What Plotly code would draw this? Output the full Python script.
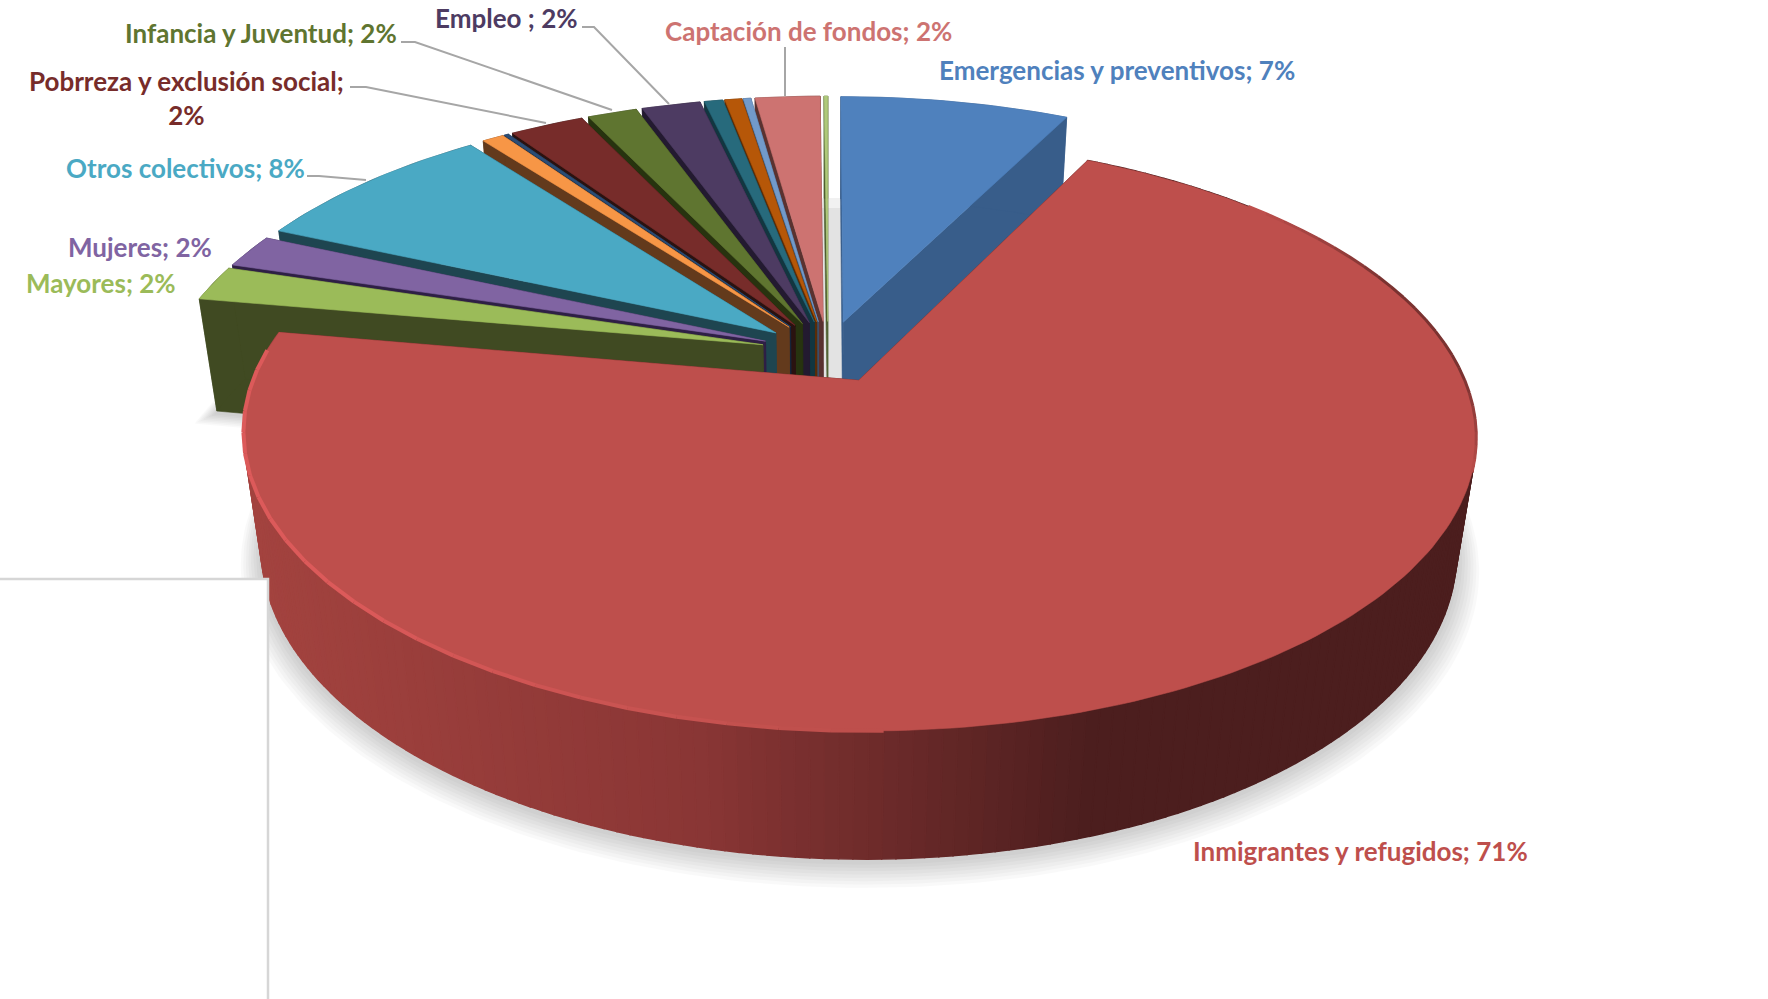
import math
import plotly.graph_objects as go

# ---- data (share of total, %; visible labels only where the source has them)
categories = ["Emergencias y preventivos", "Inmigrantes y refugidos", "Mayores", "Mujeres", "Otros colectivos",
              "Otro 1", "Otro 2", "Pobrreza y exclusión social", "Infancia y Juventud", "Empleo ",
              "Otro 3", "Otro 4", "Otro 5", "Captación de fondos", "Otro 6"]
values = [7.4, 70.5, 2.0, 1.9, 8.0, 0.7, 0.15, 2.4, 1.6, 1.9, 0.6, 0.55, 0.25, 2.1, 0.12]
top_colors = ["#4F81BD", "#BE4F4C", "#9BBB59", "#8064A2", "#4AA9C4", "#F79646", "#2C4D75", "#772C2A",
              "#5F7530", "#4D3B62", "#276A7C", "#B65708", "#729ACA", "#CD7371", "#AFC97A"]
side_colors = ["#385D8A", "#4C1E1E", "#404A22", "#2E1F45", "#1E4550", "#633A1C", "#14243A", "#2A1210",
               "#27330F", "#231A30", "#123640", "#5A2C06", "#39516E", "#5A3230", "#4E5E2E"]

# labels: (text, colour, x, y)
labels = [
    ("Emergencias y preventivos; 7%", "#4F81BD", 1117, 70),
    ("Inmigrantes y refugidos; 71%", "#BE4F4C", 1360, 851),
    ("Captación de fondos; 2%", "#CD7371", 808, 31),
    ("Empleo ; 2%", "#4D3B62", 506, 18),
    ("Infancia y Juventud; 2%", "#5F7530", 261, 33),
    ("Pobrreza y exclusión social;<br>2%", "#772C2A", 186, 98),
    ("Otros colectivos; 8%", "#4AA9C4", 185, 168),
    ("Mujeres; 2%", "#8064A2", 140, 247),
    ("Mayores; 2%", "#9BBB59", 101, 283),
]
leaders = [
    "M785,47 L785,96",
    "M582,27 L594,27 L669,104",
    "M401,42 L415,42 L612,110",
    "M350,87 L366,87 L546,123",
    "M307,176 L319,176 L366,180",
]

# ---- projection of the tilted pie
CX, CY, RX, RY, K, DEPTH, M, EXPL = 828, 352, 595, 276, 0.18, 118, 0.03, 0.113


def proj(u, v, bottom=False):
    w = 1 + K * v + (M if bottom else 0)
    return CX + RX * u / w, CY + (-RY * v + (DEPTH if bottom else 0)) / w


total = sum(values)
slices = []
acc = 0.0
for i, val in enumerate(values):
    a0 = acc / total * 2 * math.pi
    acc += val
    a1 = acc / total * 2 * math.pi
    mid = (a0 + a1) / 2
    slices.append(dict(i=i, a0=a0, a1=a1, mid=mid, ou=EXPL * math.sin(mid), ov=EXPL * math.cos(mid)))


def arc(s, a0=None, a1=None, bottom=False, n=None):
    a0 = s["a0"] if a0 is None else a0
    a1 = s["a1"] if a1 is None else a1
    n = n or max(3, int((a1 - a0) / 0.02))
    pts = []
    for j in range(n + 1):
        a = a0 + (a1 - a0) * j / n
        pts.append(proj(s["ou"] + math.sin(a), s["ov"] + math.cos(a), bottom))
    return pts


def apex(s, bottom=False):
    return proj(s["ou"], s["ov"], bottom)


fig = go.Figure()


def poly(pts, color, line=None, opacity=1.0, lw=0.6):
    xs = [p[0] for p in pts] + [pts[0][0]]
    ys = [p[1] for p in pts] + [pts[0][1]]
    fig.add_trace(go.Scatter(x=xs, y=ys, mode="lines", fill="toself", fillcolor=color, opacity=opacity,
                             line=dict(color=line or color, width=lw), hoverinfo="skip", showlegend=False))


def stroke(pts, color, width):
    fig.add_trace(go.Scatter(x=[p[0] for p in pts], y=[p[1] for p in pts], mode="lines",
                             line=dict(color=color, width=width), hoverinfo="skip", showlegend=False))


def lerp_hex(c0, c1, t):
    a = [int(c0[k:k + 2], 16) for k in (1, 3, 5)]
    b = [int(c1[k:k + 2], 16) for k in (1, 3, 5)]
    return "#%02X%02X%02X" % tuple(round(x + (y - x) * t) for x, y in zip(a, b))


# soft drop shadow under the large slices
red = slices[1]
for layer in range(1, 9):
    sc = 1 + 0.0045 * layer
    dy = 2 + 1.9 * layer
    for s in (red, slices[2]):
        pts = [apex(s, True)] + arc(s, bottom=True)
        pts = [(CX + (x - CX) * sc, 540 + (y - 540) * sc + dy) for x, y in pts]
        poly(pts, "#000000", line="rgba(0,0,0,0)", opacity=0.018)

# painter's order: far slices first
for s in sorted(slices, key=lambda q: -math.cos(q["mid"])):
    col, side = top_colors[s["i"]], side_colors[s["i"]]
    # radial walls
    for a in (s["a0"], s["a1"]):
        tip_t = proj(s["ou"] + math.sin(a), s["ov"] + math.cos(a))
        tip_b = proj(s["ou"] + math.sin(a), s["ov"] + math.cos(a), True)
        poly([apex(s), tip_t, tip_b, apex(s, True)], side)
    # outer wall
    if s["i"] == 1:
        n = 220
        for j in range(n):
            a = s["a0"] + (s["a1"] - s["a0"]) * j / n
            b = s["a0"] + (s["a1"] - s["a0"]) * (j + 1) / n
            x_mid = proj(s["ou"] + math.sin(a), s["ov"] + math.cos(a))[0]
            if x_mid > 1100:
                c = "#4C1E1E"
            elif x_mid > 700:
                c = lerp_hex("#8A3635", "#4C1E1E", (x_mid - 700) / 400)
            else:
                c = lerp_hex("#A3433F", "#8A3635", max(0, (x_mid - 250) / 450))
            t0, t1 = arc(s, a, b, n=1)
            b0, b1 = arc(s, a, b, bottom=True, n=1)
            poly([t0, t1, b1, b0], c, lw=1.5)
    else:
        poly(arc(s) + arc(s, bottom=True)[::-1], side)
    # top face
    poly([apex(s)] + arc(s), col)

# rim shading on the big slice
f = lambda p: red["a0"] + (red["a1"] - red["a0"]) * p
N = 24
for j in range(N):
    # light rim along the near-left edge, fading towards the front
    p0, p1 = 0.60 + (0.985 - 0.60) * j / N, 0.60 + (0.985 - 0.60) * (j + 1) / N
    stroke(arc(red, f(p0), f(p1), n=2), lerp_hex("#BE4F4C", "#DC5A5A", min(1, j / (N * 0.5))), 4)
    # dark soft edge on the near-right side
    p0, p1 = 0.08 + 0.24 * j / N, 0.08 + 0.24 * (j + 1) / N
    t = min(1, j / 8) * min(1, (N - j) / 8)
    stroke(arc(red, f(p0), f(p1), n=2), lerp_hex("#BE4F4C", "#7A3230", t), 3)

shapes = [
    dict(type="rect", x0=815, x1=850, y0=198, y1=208, fillcolor="#F1F1F1", line_width=0, layer="below"),
    dict(type="rect", x0=815, x1=850, y0=208, y1=380, fillcolor="#E3E3E3", line_width=0, layer="below"),
    dict(type="path", path="M0,579 L268,579 L268,999 L0,999 Z", fillcolor="#FFFFFF", line_width=0, layer="above"),
    dict(type="path", path="M0,579 L268,579 L268,999", line=dict(color="#D6D6D6", width=2.5), layer="above"),
]
for path in leaders:
    shapes.append(dict(type="path", path=path, line=dict(color="#A6A6A6", width=2), layer="above"))

annotations = [dict(x=x, y=y, text=t, showarrow=False, xref="x", yref="y", xanchor="center", yanchor="middle",
                    align="center", font=dict(family="Lato", size=26, color=c, weight="bold"))
               for t, c, x, y in labels]

fig.update_layout(
    width=1768, height=999, margin=dict(l=0, r=0, t=0, b=0),
    paper_bgcolor="#FFFFFF", plot_bgcolor="#FFFFFF", showlegend=False,
    xaxis=dict(range=[0, 1768], visible=False, fixedrange=True),
    yaxis=dict(range=[999, 0], visible=False, fixedrange=True),
    shapes=shapes, annotations=annotations,
)
fig.write_html("out.html", config={"displayModeBar": False},
               post_script="document.body.style.margin='0';document.body.style.overflow='hidden';")
